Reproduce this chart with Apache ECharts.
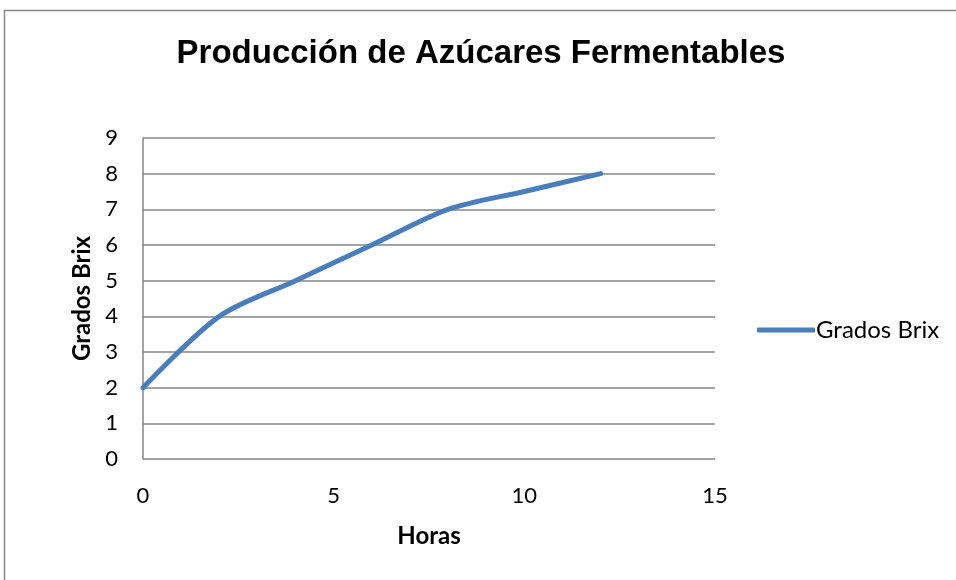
<!DOCTYPE html>
<html>
<head>
<meta charset="utf-8">
<script src="https://cdn.jsdelivr.net/npm/echarts@6/dist/echarts.min.js"></script>
<style>
  html, body { margin: 0; padding: 0; background: #fff; }
  #chart { width: 956px; height: 580px; }
</style>
</head>
<body>
<div id="chart"></div>
<script>
const horas = [0, 2, 4, 6, 8, 10, 12];
const gradosBrix = [2, 4, 5, 6, 7, 7.5, 8];
const xTicks = [0, 5, 10, 15];
const yTicks = [0, 1, 2, 3, 4, 5, 6, 7, 8, 9];

const chart = echarts.init(document.getElementById('chart'));

const tickFont = { fontFamily: 'Lato, "Open Sans", sans-serif', fontSize: 22, color: '#000' };
const nameFont = { fontFamily: 'Lato, "Open Sans", sans-serif', fontSize: 24, fontWeight: 'bold', color: '#000' };

chart.setOption({
  animation: false,
  graphic: [{
    type: 'rect',
    shape: { x: 4.5, y: 10.5, width: 1000, height: 1000 },
    style: { fill: 'none', stroke: '#868686', lineWidth: 1.5 }
  }],
  title: {
    text: 'Producción de Azúcares Fermentables',
    left: 476,
    textAlign: 'center',
    top: 32,
    textStyle: { fontFamily: '"Liberation Sans", Arial, sans-serif', fontWeight: 'bold', fontSize: 33, color: '#000' }
  },
  legend: {
    data: ['Grados Brix'],
    orient: 'vertical',
    left: 752,
    top: 313,
    itemWidth: 58,
    itemHeight: 5,
    itemGap: 0,
    icon: 'roundRect',
    textStyle: { fontFamily: 'Lato, "Open Sans", sans-serif', fontSize: 24, color: '#000', padding: [0, 0, 0, -4] }
  },
  grid: { left: 143, top: 138, right: 241, bottom: 121, containLabel: false },
  xAxis: {
    type: 'value',
    min: 0,
    max: 15,
    interval: 5,
    name: 'Horas',
    nameLocation: 'middle',
    nameGap: 65,
    nameTextStyle: nameFont,
    axisLine: { show: false },
    axisTick: { show: false },
    splitLine: { show: false },
    axisLabel: Object.assign({ margin: 26 }, tickFont)
  },
  yAxis: {
    type: 'value',
    min: 0,
    max: 9,
    interval: 1,
    name: 'Grados Brix',
    nameLocation: 'middle',
    nameGap: 47,
    nameTextStyle: nameFont,
    axisLine: { show: true, lineStyle: { color: '#868686', width: 1.5 } },
    axisTick: { show: false },
    splitLine: { show: true, lineStyle: { color: '#868686', width: 1.5 } },
    axisLabel: Object.assign({ margin: 25 }, tickFont)
  },
  series: [{
    name: 'Grados Brix',
    type: 'line',
    data: horas.map((h, i) => [h, gradosBrix[i]]),
    smooth: 0.3,
    showSymbol: false,
    lineStyle: { color: '#4a7ebb', width: 5, cap: 'round' },
    itemStyle: { color: '#4a7ebb' }
  }]
});
</script>
</body>
</html>
